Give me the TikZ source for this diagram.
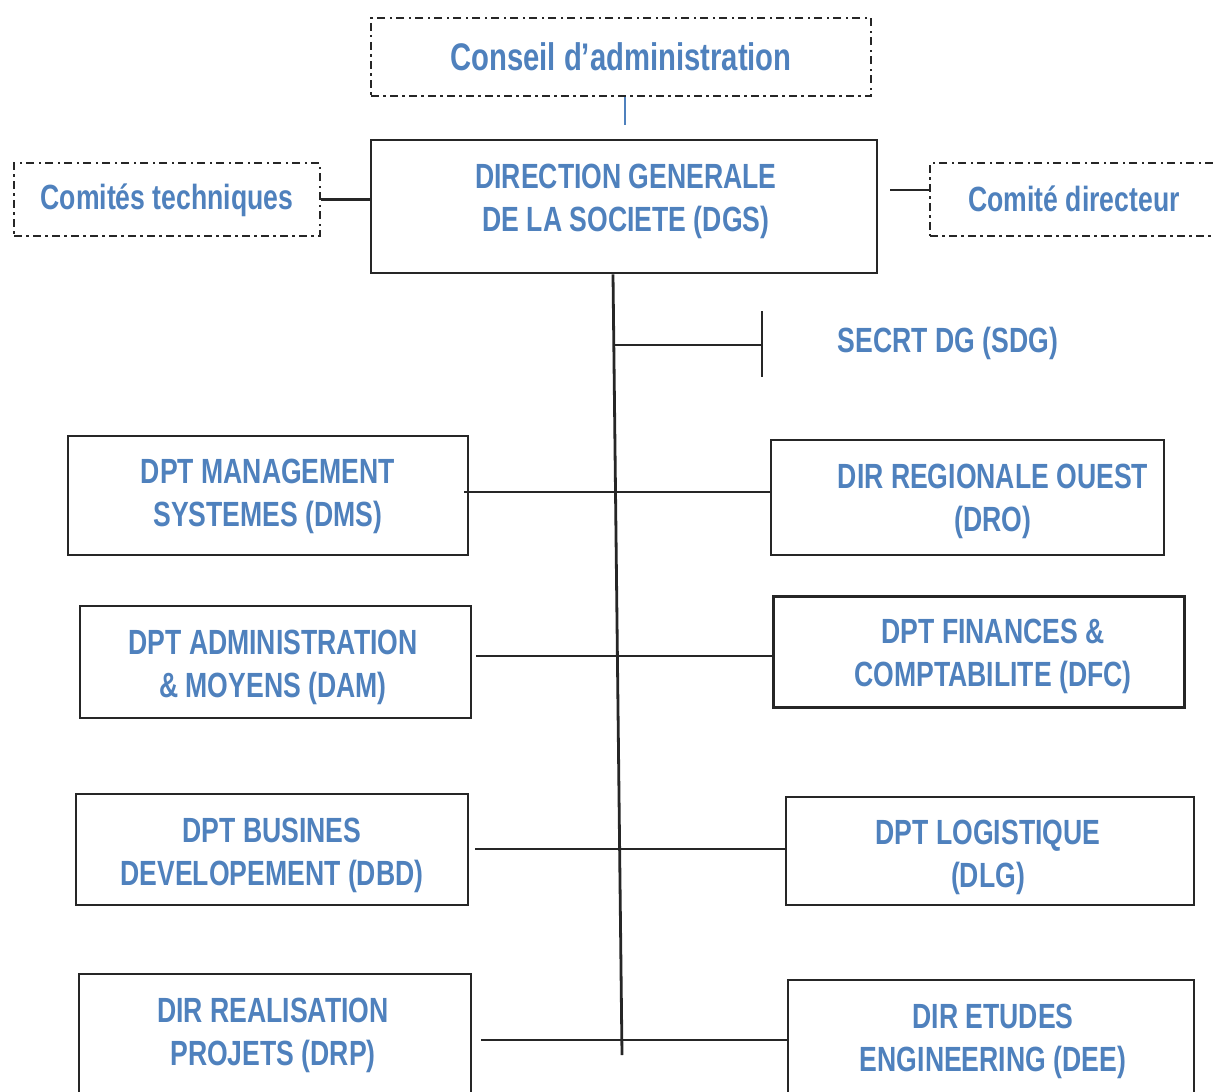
\documentclass[tikz,border=0pt]{standalone}
\usepackage{fontspec}
\setmainfont{Liberation Sans}[FakeStretch=0.76]
\usetikzlibrary{calc}
\definecolor{orgblue}{HTML}{4F81BD}
\definecolor{orgline}{HTML}{262626}

\begin{document}
\begin{tikzpicture}[x=1pt,y=-1pt,
  box/.style={draw=orgline,line width=2.8pt,inner sep=0pt},
  dashbox/.style={draw=orgline,line width=2.3pt,
    dash pattern=on 8pt off 4pt on 2.5pt off 4.5pt,inner sep=0pt},
  lbl/.style={text=orgblue,font=\fontsize{35}{43}\selectfont\bfseries,
    align=center,inner sep=0pt},
  biglbl/.style={lbl,font=\fontsize{38.5}{46}\selectfont\bfseries},
  link/.style={draw=orgline,line width=2.8pt}]
\useasboundingbox (0,0) rectangle (1213,1092);

% governance boxes
\node[dashbox,minimum width=500pt,minimum height=78pt] (cons) at (621,57) {};
\node[biglbl] (constxt) at (621,57) {Conseil d’administration};
\node[box,minimum width=506pt,minimum height=133pt] (dgs) at (624,206.5) {};
\node[lbl] (dgstxt) at (626,201) {DIRECTION GENERALE\\DE LA SOCIETE (DGS)};
\node[dashbox,minimum width=306pt,minimum height=73pt] (ct) at (167,199.5) {};
\node[lbl] (cttxt) at (167,200) {Comités techniques};
\node[dashbox,minimum width=295pt,minimum height=73pt] (cd) at (1077.5,199.5) {};
\node[lbl] (cdtxt) at (1074,199) {Comité directeur};
\node[lbl] (sdg) at (948,343) {SECRT DG (SDG)};

% departments, left column
\node[box,minimum width=400pt,minimum height=119pt] (dms) at (268,495.5) {};
\node[lbl] at (268,496) {DPT MANAGEMENT\\SYSTEMES (DMS)};
\node[box,minimum width=391pt,minimum height=112pt] (dam) at (275.5,662) {};
\node[lbl] at (273,667) {DPT ADMINISTRATION\\\& MOYENS (DAM)};
\node[box,minimum width=392pt,minimum height=111pt] (dbd) at (272,849.5) {};
\node[lbl] at (272,855) {DPT BUSINES\\DEVELOPEMENT (DBD)};
\node[box,minimum width=392pt,minimum height=126pt] (drp) at (275,1037) {};
\node[lbl] at (273,1035) {DIR REALISATION\\PROJETS (DRP)};

% departments, right column
\node[box,minimum width=393pt,minimum height=115pt] (dro) at (967.5,497.5) {};
\node[lbl] at (993,501) {DIR REGIONALE OUEST\\(DRO)};
\node[box,line width=3pt,minimum width=411pt,minimum height=111pt] (dfc) at (978.5,651.5) {};
\node[lbl] at (993,656) {DPT FINANCES \&\\COMPTABILITE (DFC)};
\node[box,minimum width=408pt,minimum height=108pt] (dlg) at (990,851) {};
\node[lbl] at (988,857) {DPT LOGISTIQUE\\(DLG)};
\node[box,minimum width=406pt,minimum height=120pt] (dee) at (991,1040) {};
\node[lbl] at (993,1041) {DIR ETUDES\\ENGINEERING (DEE)};

% connector end points
\coordinate (consdrop) at (625,125);
\coordinate (cdstart) at (890,190);
\coordinate (trunktop) at (613,0);
\coordinate (trunkbot) at (622,1055);
\coordinate (sdgjoin) at (615,345);
\coordinate (sdgend) at (762,345);
\coordinate (sdgtop) at (762,311);
\coordinate (sdgbot) at (762,377);
\coordinate (h1) at (464,492);
\coordinate (h2) at (476,656);
\coordinate (h3) at (475,849);
\coordinate (h4) at (481,1040);

% connectors
\draw[draw=orgblue,line width=2pt] (cons.south -| consdrop) -- (consdrop);
\draw[link] (ct.east) -- (ct.east -| dgs.west);
\draw[link] (cdstart) -- (cdstart -| cd.west);
\draw[link] (trunktop |- dgs.south) -- (trunkbot);
\draw[link] (sdgjoin) -- (sdgend);
\draw[link] (sdgtop) -- (sdgbot);
\draw[link] (h1) -- (h1 -| dro.west);
\draw[link] (h2) -- (h2 -| dfc.west);
\draw[link] (h3) -- (h3 -| dlg.west);
\draw[link] (h4) -- (h4 -| dee.west);
\end{tikzpicture}
\end{document}
